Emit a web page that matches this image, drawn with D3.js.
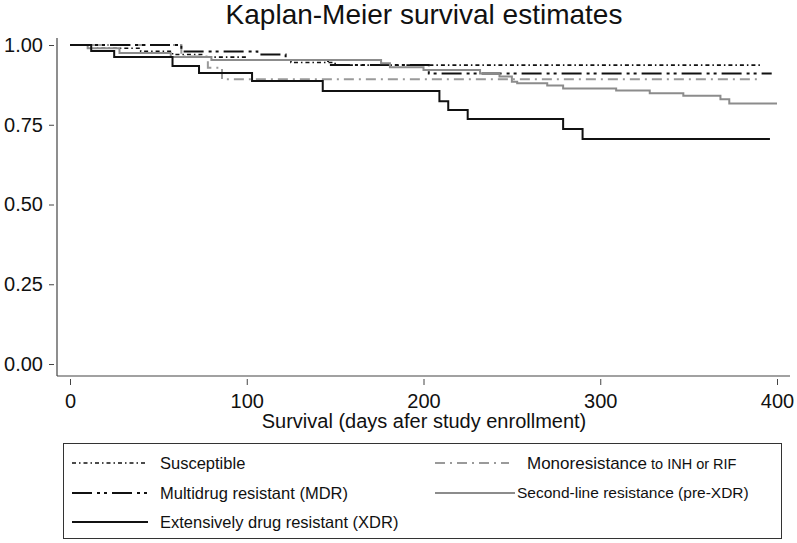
<!DOCTYPE html>
<html>
<head>
<meta charset="utf-8">
<script src="https://cdn.jsdelivr.net/npm/d3@7"></script>
<style>
  html, body { margin: 0; padding: 0; background: #fff; }
  svg { display: block; font-family: "Liberation Sans", Arial, sans-serif; }
</style>
</head>
<body>
<svg id="chart" width="797" height="543"></svg>
<script>
// ── Data ────────────────────────────────────────────────────────────────────
const xTicks = [0, 100, 200, 300, 400];
const yTicks = [0, 0.25, 0.5, 0.75, 1];

// step points: time (days) and survival estimate after the step
const susceptibleT = [0, 15, 40, 58, 75, 100, 125, 150, 392];
const susceptibleS = [1, 0.99, 0.98, 0.97, 0.962, 0.953, 0.945, 0.937, 0.937];

const monoT = [0, 63, 78, 86, 390];
const monoS = [1, 0.964, 0.929, 0.893, 0.893];

const mdrT = [0, 63, 106, 122, 146, 203, 397];
const mdrS = [1, 0.98, 0.97, 0.953, 0.937, 0.911, 0.911];

const preXdrT = [0, 10, 28, 57, 80, 176, 181, 200, 232, 243, 250, 253, 270, 279, 309, 328, 347, 368, 373, 400];
const preXdrS = [1, 0.99, 0.975, 0.962, 0.953, 0.943, 0.93, 0.922, 0.911, 0.901, 0.885, 0.88, 0.873, 0.864, 0.857, 0.849, 0.841, 0.83, 0.817, 0.817];

const xdrT = [0, 12, 25, 58, 73, 103, 143, 209, 214, 225, 279, 290, 396];
const xdrS = [1, 0.981, 0.962, 0.934, 0.912, 0.887, 0.856, 0.824, 0.796, 0.768, 0.737, 0.705, 0.705];

// ── Series styling (draw order = legend order) ──────────────────────────────
const series = [
  { name: 'Susceptible', t: susceptibleT, s: susceptibleS, color: '#111', width: 1.6, dash: '4,3,1.5,3' },
  { name: 'Monoresistance', t: monoT, s: monoS, color: '#9a9a9a', width: 2, dash: '10,5,2,5' },
  { name: 'Multidrug resistant (MDR)', t: mdrT, s: mdrS, color: '#111', width: 2, dash: '20,5,3,4,3,5' },
  { name: 'Second-line resistance (pre-XDR)', t: preXdrT, s: preXdrS, color: '#8c8c8c', width: 2, dash: null },
  { name: 'Extensively drug resistant (XDR)', t: xdrT, s: xdrS, color: '#111', width: 2, dash: null },
];

// ── Scales ──────────────────────────────────────────────────────────────────
const svg = d3.select('#chart');
const x = d3.scaleLinear().domain([0, 400]).range([70, 777]);
const y = d3.scaleLinear().domain([0, 1]).range([364, 45]);

const AXIS_X = 57;     // y-axis line position
const AXIS_Y = 376;    // x-axis line position
const FONT = '"Liberation Sans", Arial, sans-serif';

// title
svg.append('text')
  .attr('x', 424).attr('y', 24)
  .attr('text-anchor', 'middle')
  .attr('font-size', 28).attr('fill', '#111')
  .text('Kaplan-Meier survival estimates');

// ── Axes ────────────────────────────────────────────────────────────────────
const yAxis = d3.axisLeft(y).tickValues(yTicks).tickFormat(d3.format('.2f')).tickSize(5).tickPadding(6);
const yG = svg.append('g').attr('transform', `translate(${AXIS_X - 3},0)`).call(yAxis);
yG.select('.domain').remove();
yG.selectAll('line').attr('stroke', '#444');
yG.selectAll('text').attr('font-size', 20).attr('fill', '#111').attr('font-family', FONT);

const xAxis = d3.axisBottom(x).tickValues(xTicks).tickFormat(d3.format('d')).tickSize(6).tickPadding(9);
const xG = svg.append('g').attr('transform', `translate(0,${AXIS_Y + 3})`).call(xAxis);
xG.select('.domain').remove();
xG.selectAll('line').attr('stroke', '#444');
xG.selectAll('text').attr('font-size', 20).attr('fill', '#111').attr('font-family', FONT);

svg.append('line')
  .attr('x1', AXIS_X).attr('x2', AXIS_X).attr('y1', 38).attr('y2', AXIS_Y)
  .attr('stroke', '#444').attr('stroke-width', 1.2);
svg.append('line')
  .attr('x1', AXIS_X).attr('x2', 790).attr('y1', AXIS_Y).attr('y2', AXIS_Y)
  .attr('stroke', '#444').attr('stroke-width', 1.2);

svg.append('text')
  .attr('x', 424).attr('y', 428)
  .attr('text-anchor', 'middle')
  .attr('font-size', 20).attr('fill', '#111')
  .text('Survival (days afer study enrollment)');

// ── Survival curves ─────────────────────────────────────────────────────────
const line = d3.line()
  .x(d => x(d[0]))
  .y(d => y(d[1]))
  .curve(d3.curveStepAfter);

svg.append('g').selectAll('path')
  .data(series)
  .join('path')
  .attr('d', d => line(d.t.map((t, i) => [t, d.s[i]])))
  .attr('fill', 'none')
  .attr('stroke', d => d.color)
  .attr('stroke-width', d => d.width)
  .attr('stroke-dasharray', d => d.dash);

// ── Legend ──────────────────────────────────────────────────────────────────
const legend = svg.append('g');
legend.append('rect')
  .attr('x', 63.5).attr('y', 443.5).attr('width', 718).attr('height', 95)
  .attr('fill', 'none').attr('stroke', '#333').attr('stroke-width', 1);

const legendItems = [
  { s: series[0], x1: 72, x2: 148, ty: 463, tx: 160, size: 16.5 },
  { s: series[2], x1: 72, x2: 148, ty: 493, tx: 160, size: 16.5 },
  { s: series[4], x1: 72, x2: 148, ty: 522, tx: 160, size: 16.5 },
  { s: series[1], x1: 435, x2: 509, ty: 463, tx: 527, size: 17 },
  { s: series[3], x1: 435, x2: 515, ty: 493, tx: 517, size: 15.5 },
];

legendItems.forEach(it => {
  legend.append('line')
    .attr('x1', it.x1).attr('x2', it.x2).attr('y1', it.ty).attr('y2', it.ty)
    .attr('stroke', it.s.color).attr('stroke-width', it.s.width)
    .attr('stroke-dasharray', it.s.dash);
  const t = legend.append('text')
    .attr('x', it.tx).attr('y', it.ty).attr('dy', '0.35em')
    .attr('font-size', it.size).attr('fill', '#111')
    .text(it.s.name);
  if (it.s.name === 'Monoresistance') {
    t.append('tspan').attr('font-size', 14.5).text(' to INH or RIF');
  }
});
</script>
</body>
</html>
